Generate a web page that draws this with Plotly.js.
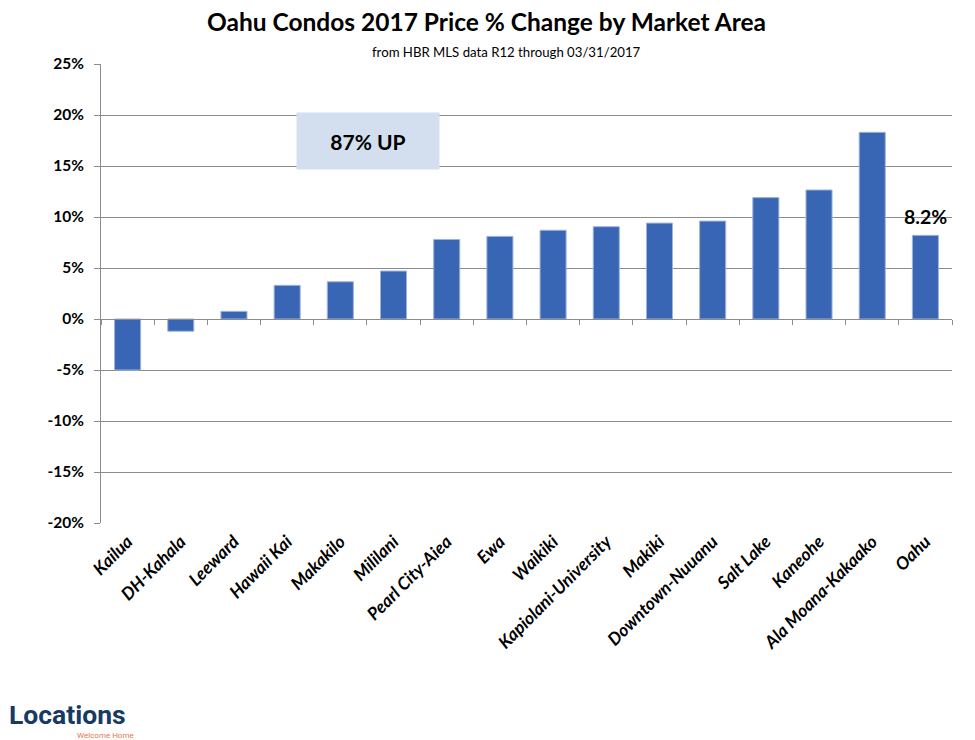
<!DOCTYPE html>
<html>
<head>
<meta charset="utf-8">
<script src="https://cdn.plot.ly/plotly-3.0.1.min.js"></script>
<style>
html,body{margin:0;padding:0;background:#fff;}
#chart{width:975px;height:740px;}
</style>
</head>
<body>
<div id="chart"></div>
<script>
const categories = ["Kailua","DH-Kahala","Leeward","Hawaii Kai","Makakilo","Mililani","Pearl City-Aiea","Ewa","Waikiki","Kapiolani-University","Makiki","Downtown-Nuuanu","Salt Lake","Kaneohe","Ala Moana-Kakaako","Oahu"];
const values = [-5.0, -1.2, 0.75, 3.3, 3.65, 4.7, 7.8, 8.1, 8.7, 9.05, 9.4, 9.6, 11.9, 12.65, 18.3, 8.2];
const yTicks = [-20,-15,-10,-5,0,5,10,15,20,25];
const titleText = "Oahu Condos 2017 Price % Change by Market Area";
const subtitleText = "from HBR MLS data R12 through 03/31/2017";
const boxText = "87% UP";
const highlightLabel = values[values.length-1].toFixed(1) + "%";

const FONT = "Lato, 'Open Sans', sans-serif";
const GRID = "#8c8c8c";
const n = categories.length;
const boundaries = [];
for (let i = 0; i <= n; i++) boundaries.push(i - 0.5);

const bars = {
  type: "bar",
  x: categories,
  y: values,
  width: 0.49,
  marker: {color: "#3966b4", line: {color: "#9db3dc", width: 1}},
  hoverinfo: "x+y"
};
const helper = {
  type: "scatter", mode: "markers",
  x: [-0.5, n - 0.5], y: [0, 0],
  xaxis: "x2", yaxis: "y",
  marker: {opacity: 0}, hoverinfo: "skip", showlegend: false
};

const yMin = -20, yMax = 25;
const layout = {
  width: 975, height: 740,
  margin: {l: 101, r: 23, t: 64, b: 217},
  paper_bgcolor: "#fff", plot_bgcolor: "#fff",
  showlegend: false,
  font: {family: FONT, color: "#000"},
  title: {
    text: titleText,
    font: {family: FONT, size: 24.5, weight: "bold", color: "#000"},
    x: 0.499, xanchor: "center",
    y: 1 - 22/740, yref: "container", yanchor: "middle"
  },
  xaxis: {
    type: "category",
    range: [-0.5, n - 0.5],
    showline: false, showgrid: false, zeroline: false,
    ticks: "",
    tickangle: -45,
    ticklabelstandoff: 4,
    tickfont: {family: FONT, size: 17.5, weight: "bold", style: "italic", color: "#000"}
  },
  xaxis2: {
    overlaying: "x",
    anchor: "free",
    position: (0 - yMin) / (yMax - yMin),
    range: [-0.5, n - 0.5],
    showline: true, linecolor: GRID, linewidth: 1,
    showgrid: false, zeroline: false,
    tickmode: "array", tickvals: boundaries,
    ticks: "outside", ticklen: 5, tickcolor: GRID,
    showticklabels: false
  },
  yaxis: {
    range: [yMin, yMax],
    tickmode: "array", tickvals: yTicks,
    ticktext: yTicks.map(v => v + "%"),
    showline: true, linecolor: GRID, linewidth: 1,
    ticks: "outside", ticklen: 6, tickcolor: GRID,
    ticklabelstandoff: 7,
    showgrid: true, gridcolor: GRID, gridwidth: 1,
    zeroline: false,
    tickfont: {family: FONT, size: 15.5, weight: "bold", color: "#000"}
  },
  annotations: [
    {
      text: subtitleText, xref: "paper", yref: "paper",
      x: (506 - 101) / 851, y: (523 - 52) / 459,
      xanchor: "center", yanchor: "middle", showarrow: false,
      font: {family: FONT, size: 13.2, color: "#000"}
    },
    {
      text: "<b>" + boxText + "</b>", xref: "paper", yref: "paper",
      x: (368 - 101) / 851, y: (523 - 141) / 459,
      xanchor: "center", yanchor: "middle", showarrow: false,
      width: 140, height: 54, bgcolor: "#d3dfee",
      font: {family: FONT, size: 21, color: "#000"}
    },
    {
      text: "<b>" + highlightLabel + "</b>", xref: "x", yref: "y",
      x: categories[n - 1], y: values[n - 1],
      xanchor: "center", yanchor: "bottom", yshift: 5, showarrow: false,
      font: {family: FONT, size: 19.5, color: "#000"}
    },
    {
      text: "<b>Locations</b>", xref: "paper", yref: "paper",
      x: (7 - 101) / 851, y: (523 - 714) / 459,
      xanchor: "left", yanchor: "middle", showarrow: false,
      font: {family: "Roboto, sans-serif", size: 26.5, color: "#173a63"}
    },
    {
      text: "Welcome Home", xref: "paper", yref: "paper",
      x: (75 - 101) / 851, y: (523 - 735) / 459,
      xanchor: "left", yanchor: "middle", showarrow: false,
      font: {family: "Roboto, sans-serif", size: 8, color: "#e8734f"}
    }
  ]
};

Plotly.newPlot("chart", [bars, helper], layout, {displayModeBar: false, staticPlot: true});
</script>
</body>
</html>
